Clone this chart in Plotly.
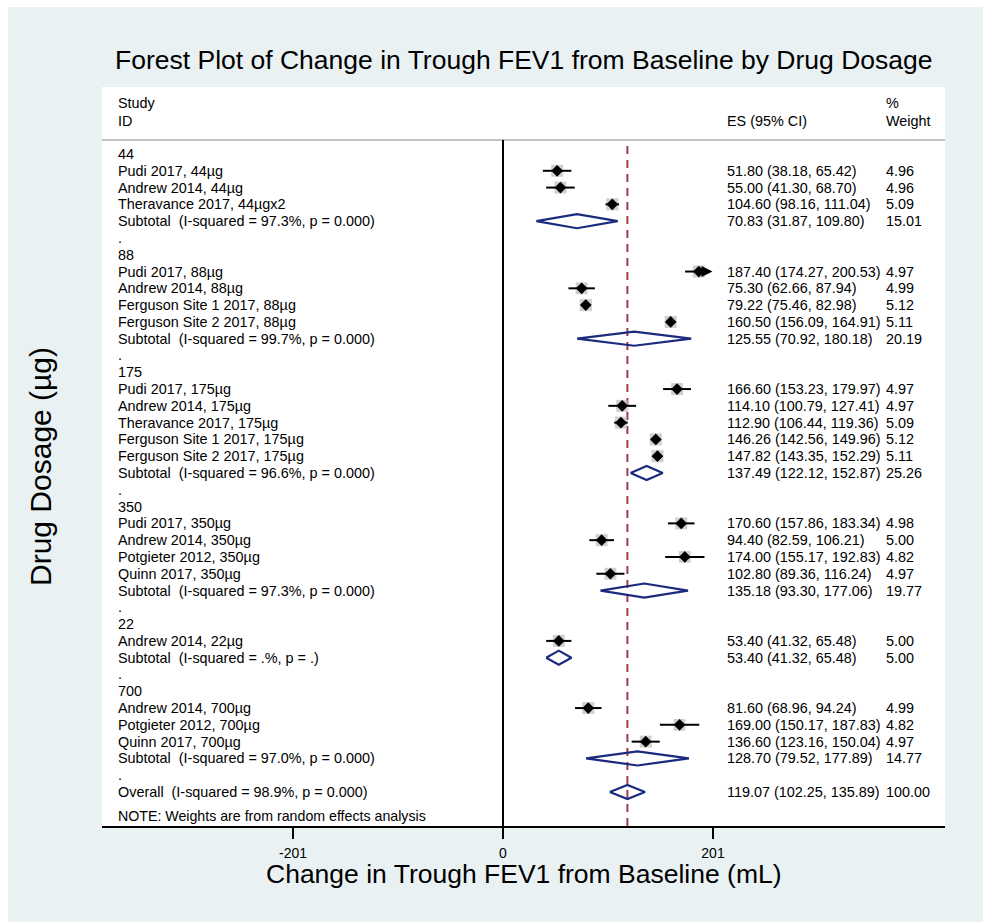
import plotly.graph_objects as go

# ---------------- data ----------------
dose_groups = ["44", "88", "175", "350", "22", "700"]

study_ids = [
    ["Pudi 2017, 44µg", "Andrew 2014, 44µg", "Theravance 2017, 44µgx2"],
    ["Pudi 2017, 88µg", "Andrew 2014, 88µg", "Ferguson Site 1 2017, 88µg", "Ferguson Site 2 2017, 88µg"],
    ["Pudi 2017, 175µg", "Andrew 2014, 175µg", "Theravance 2017, 175µg",
     "Ferguson Site 1 2017, 175µg", "Ferguson Site 2 2017, 175µg"],
    ["Pudi 2017, 350µg", "Andrew 2014, 350µg", "Potgieter 2012, 350µg", "Quinn 2017, 350µg"],
    ["Andrew 2014, 22µg"],
    ["Andrew 2014, 700µg", "Potgieter 2012, 700µg", "Quinn 2017, 700µg"],
]
study_es = [
    [51.80, 55.00, 104.60],
    [187.40, 75.30, 79.22, 160.50],
    [166.60, 114.10, 112.90, 146.26, 147.82],
    [170.60, 94.40, 174.00, 102.80],
    [53.40],
    [81.60, 169.00, 136.60],
]
study_lo = [
    [38.18, 41.30, 98.16],
    [174.27, 62.66, 75.46, 156.09],
    [153.23, 100.79, 106.44, 142.56, 143.35],
    [157.86, 82.59, 155.17, 89.36],
    [41.32],
    [68.96, 150.17, 123.16],
]
study_hi = [
    [65.42, 68.70, 111.04],
    [200.53, 87.94, 82.98, 164.91],
    [179.97, 127.41, 119.36, 149.96, 152.29],
    [183.34, 106.21, 192.83, 116.24],
    [65.48],
    [94.24, 187.83, 150.04],
]
study_wt = [
    [4.96, 4.96, 5.09],
    [4.97, 4.99, 5.12, 5.11],
    [4.97, 4.97, 5.09, 5.12, 5.11],
    [4.98, 5.00, 4.82, 4.97],
    [5.00],
    [4.99, 4.82, 4.97],
]

sub_i2 = ["97.3%", "99.7%", "96.6%", "97.3%", ".%", "97.0%"]
sub_p = ["0.000", "0.000", "0.000", "0.000", ".", "0.000"]
sub_es = [70.83, 125.55, 137.49, 135.18, 53.40, 128.70]
sub_lo = [31.87, 70.92, 122.12, 93.30, 41.32, 79.52]
sub_hi = [109.80, 180.18, 152.87, 177.06, 65.48, 177.89]
sub_wt = [15.01, 20.19, 25.26, 19.77, 5.00, 14.77]

overall_i2 = "98.9%"
overall_p = "0.000"
overall_es = 119.07
overall_lo = 102.25
overall_hi = 135.89
overall_wt = 100.00

x_ticks = [-201, 0, 201]
ci_arrow_limit = 200

# ---------------- styling ----------------
FONT = "Liberation Sans, Arial, Helvetica, sans-serif"
TXT = 14.4
NAVY = "#1c2a7e"
MAROON = "#a23b4c"
BOX = "#bcbcbc"
PANEL = "#e9f1f3"

W, H = 983, 922
L, R, T, B = 102, 38, 87, 96
PW, PH = W - L - R, H - T - B
ROW0_PX, ROW_PX = 154, 16.79
def px_to_row(py):
    return (py - ROW0_PX) / ROW_PX
def px_to_paper_x(px):
    return (px - L) / PW
def px_to_paper_y(py):
    return (H - B - py) / PH

COL_ID = px_to_paper_x(115.5)
COL_ES = px_to_paper_x(725)
COL_WT = px_to_paper_x(884)

NB = "\u00a0"

annotations = []
def add_text(col, row, text, size=TXT):
    annotations.append(dict(x=col, xref="paper", y=row, yref="y", text=text,
                            showarrow=False, xanchor="left", yanchor="middle",
                            font=dict(family=FONT, size=size, color="black")))

def es_text(es, lo, hi):
    return f"{es:.2f} ({lo:.2f}, {hi:.2f})"

box_x, box_y, box_s = [], [], []
ci_x, ci_y = [], []
pt_x, pt_y = [], []
dm_x, dm_y = [], []
arrows = []
HALF = 0.42

def add_diamond(es, lo, hi, row):
    dm_x.extend([lo, es, hi, es, lo, None])
    dm_y.extend([row, row - HALF, row, row + HALF, row, None])

row = 0
for g, grp in enumerate(dose_groups):
    add_text(COL_ID, row, grp)
    row += 1
    for i, name in enumerate(study_ids[g]):
        es, lo, hi, w = study_es[g][i], study_lo[g][i], study_hi[g][i], study_wt[g][i]
        add_text(COL_ID, row, name)
        add_text(COL_ES, row, es_text(es, lo, hi))
        add_text(COL_WT, row, f"{w:.2f}")
        box_x.append(es); box_y.append(row); box_s.append(12 * (w / 5.0) ** 0.5)
        pt_x.append(es); pt_y.append(row)
        if hi >= ci_arrow_limit:
            ci_x.extend([lo, es, None]); ci_y.extend([row, row, None])
            arrows.append((es, hi, row))
        else:
            ci_x.extend([lo, hi, None]); ci_y.extend([row, row, None])
        row += 1
    add_text(COL_ID, row, f"Subtotal{NB} (I-squared = {sub_i2[g]}, p = {sub_p[g]})")
    add_text(COL_ES, row, es_text(sub_es[g], sub_lo[g], sub_hi[g]))
    add_text(COL_WT, row, f"{sub_wt[g]:.2f}")
    add_diamond(sub_es[g], sub_lo[g], sub_hi[g], row)
    row += 1
    add_text(COL_ID, row, ".")
    row += 1

add_text(COL_ID, row, f"Overall{NB} (I-squared = {overall_i2}, p = {overall_p})")
add_text(COL_ES, row, es_text(overall_es, overall_lo, overall_hi))
add_text(COL_WT, row, f"{overall_wt:.2f}")
add_diamond(overall_es, overall_lo, overall_hi, row)

add_text(COL_ID, px_to_row(816), "NOTE: Weights are from random effects analysis", size=14.2)

# header
add_text(COL_ID, px_to_row(103), "Study")
add_text(COL_ID, px_to_row(121), "ID")
add_text(COL_ES, px_to_row(121), "ES (95% CI)")
add_text(COL_WT, px_to_row(103), "%")
add_text(COL_WT, px_to_row(121), "Weight")

for es, hi, r in arrows:
    annotations.append(dict(x=hi, y=r, xref="x", yref="y", ax=es, ay=r,
                            axref="x", ayref="y", showarrow=True, arrowhead=2,
                            arrowsize=1.1, arrowwidth=2, arrowcolor="black",
                            standoff=0, text=""))

# titles
annotations.append(dict(x=0.5, xref="paper", y=px_to_paper_y(60), yref="paper",
                        text="Forest Plot of Change in Trough FEV1 from Baseline by Drug Dosage",
                        showarrow=False, xanchor="center", yanchor="middle",
                        font=dict(family=FONT, size=26.5, color="black")))
annotations.append(dict(x=0.5, xref="paper", y=px_to_paper_y(874), yref="paper",
                        text="Change in Trough FEV1 from Baseline (mL)",
                        showarrow=False, xanchor="center", yanchor="middle",
                        font=dict(family=FONT, size=26.5, color="black")))
annotations.append(dict(x=px_to_paper_x(40), xref="paper", y=px_to_paper_y(467), yref="paper",
                        text="Drug Dosage (µg)", textangle=-90,
                        showarrow=False, xanchor="center", yanchor="middle",
                        font=dict(family=FONT, size=30, color="black")))

fig = go.Figure()
fig.add_trace(go.Scatter(x=box_x, y=box_y, mode="markers", hoverinfo="skip",
                         marker=dict(symbol="square", size=box_s, color=BOX, line=dict(width=0))))
fig.add_trace(go.Scatter(x=ci_x, y=ci_y, mode="lines", hoverinfo="skip",
                         line=dict(color="black", width=2)))
fig.add_trace(go.Scatter(x=pt_x, y=pt_y, mode="markers", hoverinfo="skip",
                         marker=dict(symbol="diamond", size=9, color="black", line=dict(width=0))))
fig.add_trace(go.Scatter(x=dm_x, y=dm_y, mode="lines", hoverinfo="skip",
                         line=dict(color=NAVY, width=2.2)))

line_top = px_to_paper_y(140)
TICK_LEN = 11
shapes = [
    dict(type="rect", xref="paper", yref="paper", x0=px_to_paper_x(8), x1=px_to_paper_x(995),
         y0=px_to_paper_y(935), y1=px_to_paper_y(7), fillcolor=PANEL, line=dict(width=0), layer="below"),
    dict(type="rect", xref="paper", yref="paper", x0=0, x1=1, y0=0, y1=1,
         fillcolor="white", line=dict(width=0), layer="below"),
    dict(type="line", xref="paper", yref="paper", x0=0, x1=1, y0=line_top, y1=line_top,
         line=dict(color="#c2c2c2", width=2), layer="below"),
    dict(type="line", xref="x", yref="paper", x0=0, x1=0, y0=0, y1=line_top,
         line=dict(color="black", width=2), layer="below"),
    dict(type="line", xref="x", yref="paper", x0=overall_es, x1=overall_es, y0=0, y1=line_top,
         line=dict(color=MAROON, width=2, dash="8px,6px"), layer="below"),
]
# tick marks (drawn explicitly at the axis tick values)
for tv in x_ticks:
    shapes.append(dict(type="line", xref="x", yref="paper", x0=tv, x1=tv,
                       y0=0, y1=-TICK_LEN / PH, line=dict(color="black", width=2)))

px_per_unit = (713 - 503) / 201.0
x_min = (L - 503) / px_per_unit
x_max = (W - R - 503) / px_per_unit

fig.update_layout(
    width=W, height=H,
    margin=dict(l=L, r=R, t=T, b=B, pad=0),
    paper_bgcolor="white", plot_bgcolor="rgba(0,0,0,0)",
    showlegend=False,
    shapes=shapes, annotations=annotations,
    xaxis=dict(range=[x_min, x_max], tickvals=x_ticks, ticktext=[str(v) for v in x_ticks],
               ticks="outside", ticklen=TICK_LEN, tickwidth=2, tickcolor="black",
               showline=True, linecolor="black", linewidth=2, showgrid=False, zeroline=False,
               tickfont=dict(family=FONT, size=14, color="black"), ticklabelstandoff=2,
               fixedrange=True),
    yaxis=dict(range=[px_to_row(H - B), px_to_row(T)], visible=False, fixedrange=True),
)

fig.write_html("out.html", config={"displayModeBar": False},
               post_script="document.body.style.margin='0';document.body.style.overflow='hidden';")
